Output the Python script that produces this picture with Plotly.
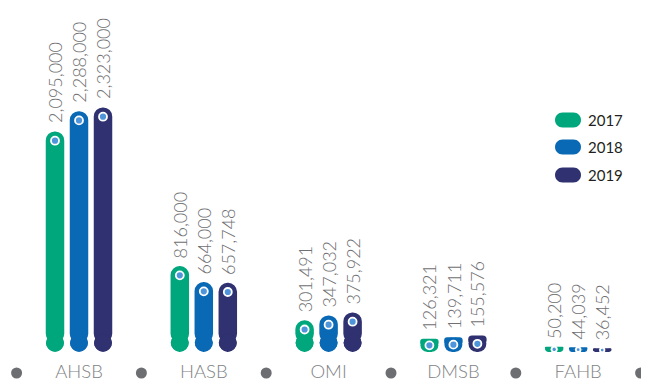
import plotly.graph_objects as go

categories = ["AHSB", "HASB", "OMI", "DMSB", "FAHB"]
years = ["2017", "2018", "2019"]
v2017 = [2095000, 816000, 301491, 126321, 50200]
v2018 = [2288000, 664000, 347032, 139711, 44039]
v2019 = [2323000, 657748, 375922, 155576, 36452]
series = [v2017, v2018, v2019]
colors = ["#00a67c", "#0a69b5", "#2f3170"]

# page has an 8px body margin, so the figure is drawn 8px smaller/offset
OFF = 8
W, H = 649 - OFF, 388 - OFF
base_px = 352 - OFF          # baseline position in figure pixels
U = 9500                     # value per pixel
ymin, ymax = -(H - base_px) * U, base_px * U
cat_px = 124.8
x0_px = 79 - OFF
xmin = -x0_px / cat_px
xmax = (W - x0_px) / cat_px
bar_px = 18.5
bar_w = bar_px / cat_px
step = 24 / cat_px
label_y = -21 * U
xs = list(range(len(categories)))

fig = go.Figure()
annotations = []
for i, (vals, col, yr) in enumerate(zip(series, colors, years)):
    centers = [k + (i - 1) * step for k in xs]
    radii = [min(bar_px / 2, v / U / 2) for v in vals]          # px
    # upper part of each pill: rounded top (one trace per bar for its radius)
    for c, v, r in zip(centers, vals, radii):
        fig.add_trace(go.Bar(
            x=[round(c)], y=[v - r * U], base=[r * U],
            width=bar_w, offset=c - round(c) - bar_w / 2,
            marker=dict(color=col, cornerradius=r, line=dict(width=0)),
            showlegend=False, hoverinfo="skip"))
    # lower part: narrow flat bar + two end circles give the rounded bottom
    inner_w = [(bar_px - 2 * r) / cat_px for r in radii]
    fig.add_trace(go.Bar(
        x=[round(c) for c in centers], y=[r * U for r in radii], base=[0] * len(vals),
        width=inner_w, offset=[c - round(c) - w / 2 for c, w in zip(centers, inner_w)],
        marker=dict(color=col, line=dict(width=0)),
        showlegend=False, hoverinfo="skip"))
    cx2, cy2, cs2 = [], [], []
    for c, r in zip(centers, radii):
        d = (bar_px / 2 - r) / cat_px
        for sx in (-d, d):
            cx2.append(c + sx); cy2.append(r * U); cs2.append(2 * r - 0.6)
    fig.add_trace(go.Scatter(
        x=cx2, y=cy2, mode="markers",
        marker=dict(size=cs2, color=col, opacity=1, line=dict(width=0)),
        showlegend=False, hoverinfo="skip"))
    # white-ringed dot near the top of each pill
    dot_y = [max(v - bar_px / 2 * U, v / 2) for v in vals]
    dot_s = [min(8, max(4.5, v / U)) for v in vals]
    fig.add_trace(go.Scatter(
        x=centers, y=dot_y, mode="markers",
        marker=dict(size=dot_s, color="#4f95dc", opacity=1,
                    line=dict(color="white", width=1.8)),
        showlegend=False, hoverinfo="skip"))
    for xx, v in zip(centers, vals):
        annotations.append(dict(
            x=xx, y=v, xref="x", yref="y", text=f"{v:,}", showarrow=False,
            textangle=-90, xanchor="center", yanchor="bottom", yshift=6,
            font=dict(family="Lato", size=18, color="#6f7073", weight=300)))

# separator dots and category names on the baseline row
sep_x = [k - 0.5 for k in range(len(categories) + 1)]
fig.add_trace(go.Scatter(
    x=sep_x, y=[label_y] * len(sep_x), mode="markers",
    marker=dict(size=11, color="#6d6e71", opacity=1),
    showlegend=False, hoverinfo="skip"))
fig.add_trace(go.Scatter(
    x=xs, y=[label_y] * len(xs), mode="text", text=categories,
    textposition="middle center",
    textfont=dict(family="Lato", size=18.5, color="#808285", weight=300),
    showlegend=False, hoverinfo="skip"))

# legend (custom pills)
def stadium(w, h):
    r = h / 2
    a = w / 2 - r
    k = 0.5523 * r
    return (f"M {-a},{-r} L {a},{-r} C {a+k},{-r} {a+r},{-k} {a+r},0 "
            f"C {a+r},{k} {a+k},{r} {a},{r} L {-a},{r} "
            f"C {-a-k},{r} {-a-r},{k} {-a-r},0 C {-a-r},{-k} {-a-k},{-r} {-a},{-r} Z")

shapes = []
leg_py = [120 - OFF, 147 - OFF, 175 - OFF]
for yr, col, py in zip(years, colors, leg_py):
    yp = (H - py) / H
    shapes.append(dict(type="path", xref="paper", yref="paper",
                       xsizemode="pixel", ysizemode="pixel",
                       xanchor=(568 - OFF) / W, yanchor=yp, path=stadium(26, 15),
                       fillcolor=col, line=dict(width=0)))
    annotations.append(dict(x=(586 - OFF) / W, y=yp, xref="paper", yref="paper",
                            text=yr, showarrow=False, xanchor="left", yanchor="middle",
                            font=dict(family="Lato", size=15, color="#231f20")))

fig.update_layout(
    width=W, height=H, barmode="overlay",
    margin=dict(l=0, r=0, t=0, b=0),
    paper_bgcolor="white", plot_bgcolor="white",
    xaxis=dict(range=[xmin, xmax], visible=False, showgrid=False, zeroline=False),
    yaxis=dict(range=[ymin, ymax], visible=False, showgrid=False, zeroline=False),
    annotations=annotations, shapes=shapes, showlegend=False,
)
fig.write_html("out.html")
